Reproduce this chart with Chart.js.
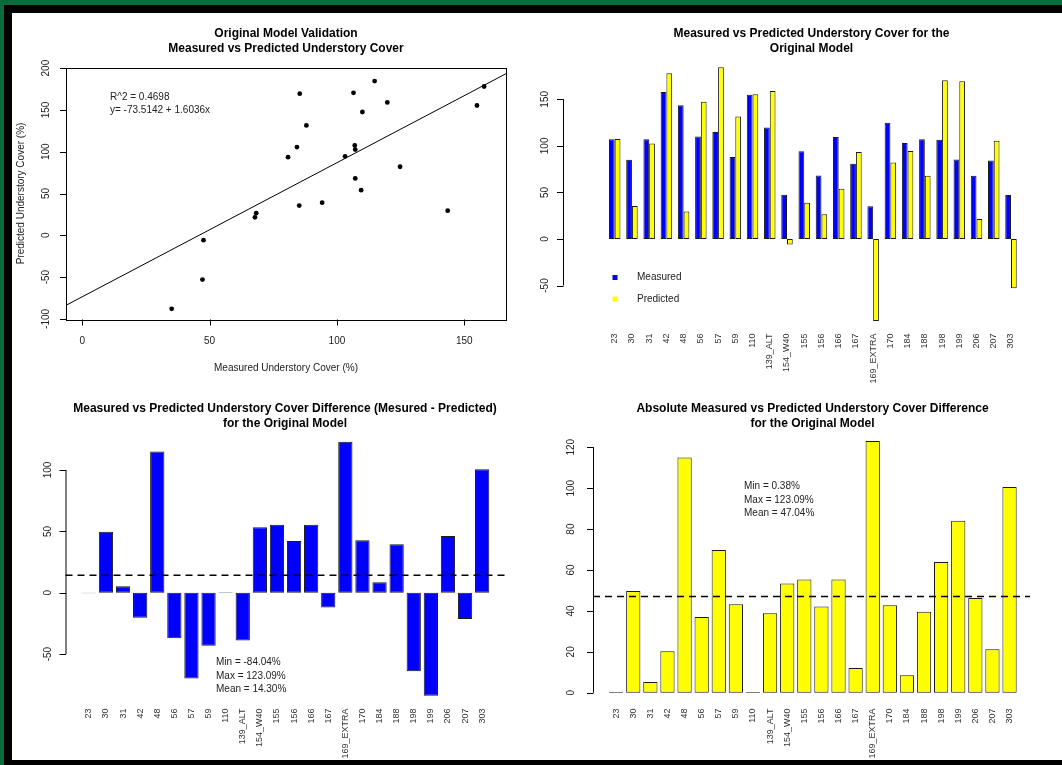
<!DOCTYPE html>
<html>
<head>
<meta charset="utf-8">
<title>Original Model Validation</title>
<script src="https://cdn.jsdelivr.net/npm/chart.js@4.4.0/dist/chart.umd.min.js"></script>
<style>
    html, body { margin: 0; padding: 0; }
    body { width: 1062px; height: 765px; background: #0b6b3d; position: relative; overflow: hidden; }
    #frame { position: absolute; left: 4px; top: 5px; width: 1058px; height: 760px; background: #000; }
    #sheet { position: absolute; left: 12px; top: 13px; width: 1050px; height: 747px; background: #fff; }
    canvas { position: absolute; left: 0; top: 0; }
</style>
</head>
<body>
<div id="frame"></div>
<div id="sheet"></div>
<canvas id="scatterChart" width="1062" height="765"></canvas>
<canvas id="coverChart" width="1062" height="765"></canvas>
<canvas id="differenceChart" width="1062" height="765"></canvas>
<canvas id="absoluteChart" width="1062" height="765"></canvas>
<script>
/*
    Original model validation
    measured vs predicted understory cover, per plot
*/

const sites = ["23", "30", "31", "42", "48", "56", "57", "59", "110", "139_ALT", "154_W40", "155",
    "156", "166", "167", "169_EXTRA", "170", "184", "188", "198", "199", "206", "207", "303"];

const measured = [107.0, 85.2, 107.2, 157.8, 143.5, 110.0, 114.8, 88.0, 155.0, 119.8, 47.6, 94.2,
    68.3, 109.5, 80.8, 35.1, 124.8, 103.2, 107.2, 106.5, 85.4, 67.8, 84.3, 47.2];

const predicted = [107.4, 35.5, 102.5, 178.0, 29.5, 147.5, 184.5, 131.5, 155.3, 159.0, -5.8, 39.0,
    26.5, 54.0, 93.5, -88.0, 82.0, 94.5, 68.0, 170.5, 169.4, 21.5, 105.5, -53.0];

const difference = [-0.38, 49.7, 5.2, -20.3, 115.0, -37.0, -69.8, -43.2, 0.42, -38.9, 53.4, 55.4,
    42.1, 55.4, -12.1, 123.09, 42.8, 8.5, 39.6, -63.9, -84.04, 46.3, -21.3, 100.6];

const absDifference = [0.38, 49.7, 5.2, 20.3, 115.0, 37.0, 69.8, 43.2, 0.42, 38.9, 53.4, 55.4,
    42.1, 55.4, 12.1, 123.09, 42.8, 8.5, 39.6, 63.9, 84.04, 46.3, 21.3, 100.6];

// regression of predicted on measured
const fitIntercept = -73.5142;
const fitSlope = 1.6036;
const fitR2 = 0.4698;

const diffStats = { min: -84.04, max: 123.09, mean: 14.30 };
const absStats = { min: 0.38, max: 123.09, mean: 47.04 };

// axis ticks
const scatterXTicks = [0, 50, 100, 150];
const scatterYTicks = [-100, -50, 0, 50, 100, 150, 200];
const coverYTicks = [-50, 0, 50, 100, 150];
const diffYTicks = [-50, 0, 50, 100];
const absYTicks = [0, 20, 40, 60, 80, 100, 120];

const FONT = "'Liberation Sans', Arial, Helvetica, sans-serif";
const BLUE = "#0000FF";
const YELLOW = "#FFFF00";
const EDGE = "#1a1a1a";

document.addEventListener("DOMContentLoaded", () => {

    initializeScatterChart();
    initializeCoverChart();
    initializeDifferenceChart();
    initializeAbsoluteChart();

});

// plot box in page pixels -> layout padding of a full page canvas
function pad(box) {

    return { left: box.left, top: box.top, right: 1062 - box.right, bottom: 765 - box.bottom };

}

function drawUp(ctx, text, x, y, align) {

    ctx.save();
    ctx.translate(x, y);
    ctx.rotate(-Math.PI / 2);
    ctx.textAlign = align;
    ctx.textBaseline = "middle";
    ctx.fillText(text, 0, 0);
    ctx.restore();

}

// base graphics style axes, titles and notes
const basePlot = {

    id: "basePlot",

    afterDatasetsDraw(chart, args, opts) {

        const ctx = chart.ctx;
        const xs = chart.scales.x;
        const ys = chart.scales.y;
        const area = chart.chartArea;

        ctx.save();
        ctx.strokeStyle = "#000";
        ctx.fillStyle = "#000";
        ctx.lineWidth = 1;

        // title
        ctx.font = "bold 12px " + FONT;
        ctx.textAlign = "center";
        ctx.textBaseline = "middle";
        opts.title.forEach((line, i) => ctx.fillText(line, opts.titleX, opts.titleY + i * 15));

        if (opts.box) {
            ctx.strokeRect(Math.round(area.left) + 0.5, Math.round(area.top) + 0.5,
                Math.round(area.width), Math.round(area.height));
        }

        // mean line
        if (opts.meanLine) {
            const y = ys.getPixelForValue(opts.meanLine.value);
            ctx.save();
            ctx.lineWidth = 1.5;
            ctx.setLineDash([7, 5]);
            ctx.beginPath();
            ctx.moveTo(opts.yAxis.x, y);
            ctx.lineTo(opts.meanLine.right, y);
            ctx.stroke();
            ctx.restore();
        }

        // y axis
        const ya = opts.yAxis;
        const yTop = ys.getPixelForValue(ya.ticks[ya.ticks.length - 1]);
        const yBottom = ys.getPixelForValue(ya.ticks[0]);
        ctx.beginPath();
        ctx.moveTo(ya.x + 0.5, yTop);
        ctx.lineTo(ya.x + 0.5, yBottom);
        ya.ticks.forEach(v => {
            const y = Math.round(ys.getPixelForValue(v)) + 0.5;
            ctx.moveTo(ya.x + 0.5, y);
            ctx.lineTo(ya.x - 6, y);
        });
        ctx.stroke();

        ctx.font = "10px " + FONT;
        ctx.fillStyle = "#222";
        ya.ticks.forEach(v => drawUp(ctx, String(v), ya.labelX, ys.getPixelForValue(v), "center"));

        // numeric x axis
        if (opts.xAxis) {
            const xa = opts.xAxis;
            ctx.beginPath();
            xa.ticks.forEach(v => {
                const x = Math.round(xs.getPixelForValue(v)) + 0.5;
                ctx.moveTo(x, xa.y);
                ctx.lineTo(x, xa.y + 6);
            });
            ctx.stroke();
            ctx.textAlign = "center";
            ctx.textBaseline = "middle";
            xa.ticks.forEach(v => ctx.fillText(String(v), xs.getPixelForValue(v), xa.labelY));
        }

        // category labels
        if (opts.categoryTop) {
            ctx.font = "9px " + FONT;
            ctx.fillStyle = "#333";
            chart.data.labels.forEach((label, i) => {
                drawUp(ctx, label, xs.getPixelForValue(i), opts.categoryTop, "right");
            });
        }

        // axis titles
        ctx.font = "10px " + FONT;
        ctx.fillStyle = "#222";
        if (opts.xTitle) {
            ctx.textAlign = "center";
            ctx.fillText(opts.xTitle.text, opts.xTitle.x, opts.xTitle.y);
        }
        if (opts.yTitle) {
            drawUp(ctx, opts.yTitle.text, opts.yTitle.x, opts.yTitle.y, "center");
        }

        // notes
        ctx.textAlign = "left";
        ctx.textBaseline = "middle";
        (opts.notes || []).forEach(note => {
            note.lines.forEach((line, i) => ctx.fillText(line, note.x, note.y + i * 13.3));
        });

        // legend
        if (opts.legend) {
            const lg = opts.legend;
            chart.data.datasets.forEach((ds, i) => {
                const y = lg.y + i * lg.gap;
                ctx.fillStyle = ds.backgroundColor;
                ctx.fillRect(lg.x - 2.5, y - 2.5, 5, 5);
                ctx.fillStyle = "#222";
                ctx.fillText(ds.label, lg.textX, y);
            });
        }

        ctx.restore();

    }

};

function hiddenScale(extra) {

    return Object.assign({ display: false }, extra);

}

function baseOptions(box, xScale, yScale, plot) {

    return {
        responsive: false,
        animation: false,
        layout: { padding: pad(box) },
        plugins: {
            legend: { display: false },
            tooltip: { enabled: false },
            basePlot: plot
        },
        scales: { x: xScale, y: yScale }
    };

}

function initializeScatterChart() {

    const box = { left: 66, right: 506, top: 67.7, bottom: 319.3 };
    const xMin = -6.4;
    const xMax = 166.4;

    new Chart(document.getElementById("scatterChart"), {
        type: "scatter",
        data: {
            datasets: [
                {
                    label: "Plots",
                    data: measured.map((m, i) => ({ x: m, y: predicted[i] })),
                    backgroundColor: "#000",
                    borderWidth: 0,
                    pointRadius: 2.4
                },
                {
                    label: "Fit",
                    data: [xMin, xMax].map(x => ({ x: x, y: fitIntercept + fitSlope * x })),
                    showLine: true,
                    borderColor: "#000",
                    borderWidth: 1,
                    pointRadius: 0
                }
            ]
        },
        options: baseOptions(
            box,
            hiddenScale({ type: "linear", min: xMin, max: xMax }),
            hiddenScale({ type: "linear", min: -100.5, max: 200.5 }),
            {
                title: ["Original Model Validation", "Measured vs Predicted Understory Cover"],
                titleX: 286,
                titleY: 33.5,
                box: true,
                yAxis: { x: 66, labelX: 46.5, ticks: scatterYTicks },
                xAxis: { y: 319.5, labelY: 341.5, ticks: scatterXTicks },
                xTitle: { text: "Measured Understory Cover (%)", x: 286, y: 368 },
                yTitle: { text: "Predicted Understory Cover (%)", x: 21.5, y: 193.5 },
                notes: [{ x: 110, y: 97.3, lines: ["R^2 = " + fitR2, "y= " + fitIntercept + " + " + fitSlope + "x"] }]
            }
        ),
        plugins: [basePlot]
    });

}

function initializeCoverChart() {

    const box = { left: 606.1, right: 1019.6, top: 62.1, bottom: 326 };
    const bars = { categoryPercentage: 2 / 3, barPercentage: 1, borderColor: EDGE, borderWidth: 1, borderSkipped: false };

    new Chart(document.getElementById("coverChart"), {
        type: "bar",
        data: {
            labels: sites,
            datasets: [
                Object.assign({ label: "Measured", data: measured, backgroundColor: BLUE }, bars),
                Object.assign({ label: "Predicted", data: predicted, backgroundColor: YELLOW }, bars)
            ]
        },
        options: baseOptions(
            box,
            hiddenScale({ type: "category", offset: true }),
            hiddenScale({ type: "linear", min: -93.45, max: 189.95 }),
            {
                title: ["Measured vs Predicted Understory Cover for the", "Original Model"],
                titleX: 811.5,
                titleY: 33.5,
                yAxis: { x: 563, labelX: 545, ticks: coverYTicks },
                categoryTop: 333.5,
                legend: { x: 615, textX: 637, y: 277.5, gap: 21.5 }
            }
        ),
        plugins: [basePlot]
    });

}

function initializeDifferenceChart() {

    const box = { left: 80.3, right: 490.7, top: 431.5, bottom: 706 };

    new Chart(document.getElementById("differenceChart"), {
        type: "bar",
        data: {
            labels: sites,
            datasets: [{
                label: "Measured - Predicted",
                data: difference,
                backgroundColor: BLUE,
                borderColor: EDGE,
                borderWidth: 1,
                borderSkipped: false,
                categoryPercentage: 1,
                barPercentage: 1 / 1.2
            }]
        },
        options: baseOptions(
            box,
            hiddenScale({ type: "category", offset: true }),
            hiddenScale({ type: "linear", min: -92.3, max: 131.4 }),
            {
                title: ["Measured vs Predicted Understory Cover Difference (Mesured - Predicted)", "for the Original Model"],
                titleX: 285,
                titleY: 408.5,
                yAxis: { x: 65.5, labelX: 48, ticks: diffYTicks },
                meanLine: { value: diffStats.mean, right: 505.5 },
                categoryTop: 708.5,
                notes: [{
                    x: 216, y: 662.7, lines: [
                        "Min = " + diffStats.min.toFixed(2) + "%",
                        "Max = " + diffStats.max.toFixed(2) + "%",
                        "Mean = " + diffStats.mean.toFixed(2) + "%"
                    ]
                }]
            }
        ),
        plugins: [basePlot]
    });

}

function initializeAbsoluteChart() {

    const box = { left: 607.6, right: 1018.1, top: 430.9, bottom: 702.8 };

    new Chart(document.getElementById("absoluteChart"), {
        type: "bar",
        data: {
            labels: sites,
            datasets: [{
                label: "|Measured - Predicted|",
                data: absDifference,
                backgroundColor: YELLOW,
                borderColor: EDGE,
                borderWidth: 1,
                borderSkipped: false,
                categoryPercentage: 1,
                barPercentage: 1 / 1.2
            }]
        },
        options: baseOptions(
            box,
            hiddenScale({ type: "category", offset: true }),
            hiddenScale({ type: "linear", min: -4.92, max: 128.0 }),
            {
                title: ["Absolute Measured vs Predicted Understory Cover Difference", "for the Original Model"],
                titleX: 812.5,
                titleY: 408.5,
                yAxis: { x: 593, labelX: 571.5, ticks: absYTicks },
                meanLine: { value: absStats.mean, right: 1030 },
                categoryTop: 708.5,
                notes: [{
                    x: 744, y: 486.7, lines: [
                        "Min = " + absStats.min.toFixed(2) + "%",
                        "Max = " + absStats.max.toFixed(2) + "%",
                        "Mean = " + absStats.mean.toFixed(2) + "%"
                    ]
                }]
            }
        ),
        plugins: [basePlot]
    });

}
</script>
</body>
</html>
